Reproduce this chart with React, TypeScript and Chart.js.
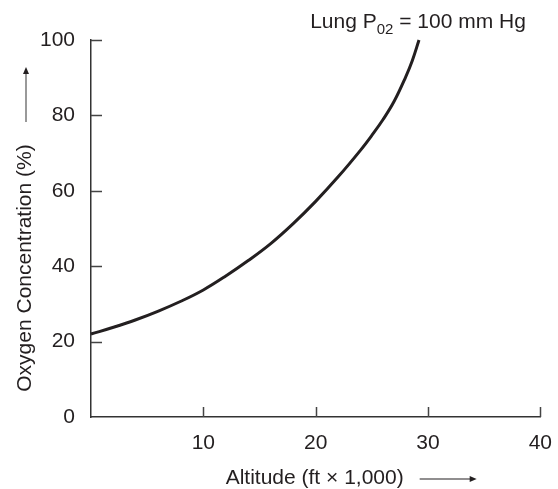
import React, { useEffect, useRef } from "react";
import { Chart, registerables } from "chart.js";

Chart.register(...registerables);

const altitude = [0, 2, 4, 6, 8, 10, 12, 14, 16, 18, 20, 22, 24, 25, 26, 27, 28, 28.6, 29.2];
const oxygen = [22.0, 23.8, 25.8, 28.1, 30.7, 33.7, 37.4, 41.5, 46.0, 51.3, 57.2, 63.7, 70.8, 74.7, 78.9, 83.8, 90.1, 94.5, 100];
const xTickValues = [10, 20, 30, 40];
const yTickValues = [20, 40, 60, 80, 100];
const xTitle = "Altitude (ft \u00d7 1,000)";
const yTitle = "Oxygen Concentration (%)";
const annotationMain = "Lung P";
const annotationSub = "02";
const annotationRest = " = 100 mm Hg";

const FONT_FAMILY = "'Liberation Sans', Arial, Helvetica, sans-serif";
const INK = "#231f20";

const decorPlugin = {
  id: "decor",
  afterDraw(chart: any) {
    const { ctx, chartArea, scales } = chart;
    const xs = scales.x;
    const ys = scales.y;
    ctx.save();
    // inward ticks
    ctx.strokeStyle = "#444";
    ctx.lineWidth = 1.5;
    ctx.beginPath();
    xTickValues.forEach((v) => {
      const px = Math.round(xs.getPixelForValue(v)) + 0.5;
      ctx.moveTo(px, chartArea.bottom);
      ctx.lineTo(px, chartArea.bottom - 10);
    });
    yTickValues.forEach((v) => {
      const py = Math.round(ys.getPixelForValue(v)) + 0.5;
      ctx.moveTo(chartArea.left, py);
      ctx.lineTo(chartArea.left + 11, py);
    });
    ctx.stroke();

    ctx.fillStyle = INK;
    ctx.font = `21px ${FONT_FAMILY}`;
    // x title
    const xCenter = (chartArea.left + chartArea.right) / 2 - 1;
    ctx.textAlign = "center";
    ctx.textBaseline = "alphabetic";
    ctx.fillText(xTitle, xCenter, 484);
    const xw = ctx.measureText(xTitle).width;
    // x arrow
    const ax0 = xCenter + xw / 2 + 16;
    const ax1 = ax0 + 57;
    const ay = 479;
    ctx.strokeStyle = INK;
    ctx.lineWidth = 1.2;
    ctx.beginPath();
    ctx.moveTo(ax0, ay);
    ctx.lineTo(ax1 - 5, ay);
    ctx.stroke();
    ctx.beginPath();
    ctx.moveTo(ax1, ay);
    ctx.lineTo(ax1 - 7, ay - 3);
    ctx.lineTo(ax1 - 7, ay + 3);
    ctx.closePath();
    ctx.fill();

    // y title (rotated)
    ctx.save();
    ctx.translate(31, 268);
    ctx.rotate(-Math.PI / 2);
    ctx.textAlign = "center";
    ctx.textBaseline = "alphabetic";
    ctx.fillText(yTitle, 0, 0);
    ctx.restore();
    // y arrow
    const yx = 26;
    const yt0 = 122;
    const yt1 = 67;
    ctx.strokeStyle = "#555";
    ctx.beginPath();
    ctx.moveTo(yx, yt0);
    ctx.lineTo(yx, yt1 + 5);
    ctx.stroke();
    ctx.beginPath();
    ctx.moveTo(yx, yt1);
    ctx.lineTo(yx - 3, yt1 + 7);
    ctx.lineTo(yx + 3, yt1 + 7);
    ctx.closePath();
    ctx.fill();

    // annotation
    ctx.textAlign = "left";
    ctx.textBaseline = "alphabetic";
    ctx.font = `21px ${FONT_FAMILY}`;
    const w1 = ctx.measureText(annotationMain).width;
    const w3 = ctx.measureText(annotationRest).width;
    ctx.font = `15px ${FONT_FAMILY}`;
    const w2 = ctx.measureText(annotationSub).width;
    const total = w1 + w2 + w3;
    let ax = 418 - total / 2;
    const base = 28;
    ctx.font = `21px ${FONT_FAMILY}`;
    ctx.fillText(annotationMain, ax, base);
    ax += w1;
    ctx.font = `15px ${FONT_FAMILY}`;
    ctx.fillText(annotationSub, ax, base + 6);
    ax += w2;
    ctx.font = `21px ${FONT_FAMILY}`;
    ctx.fillText(annotationRest, ax, base);
    ctx.restore();
  },
};

export default function App() {
  const canvasRef = useRef<HTMLCanvasElement | null>(null);

  useEffect(() => {
    if (!canvasRef.current) return;
    const chart = new Chart(canvasRef.current, {
      type: "line",
      data: {
        datasets: [
          {
            data: altitude.map((a, i) => ({ x: a, y: oxygen[i] })),
            borderColor: INK,
            borderWidth: 3,
            pointRadius: 0,
            tension: 0.4,
            fill: false,
            clip: false as any,
          },
        ],
      },
      options: {
        responsive: false,
        animation: false,
        layout: { padding: { top: 40, right: 13, left: 0, bottom: 0 } },
        plugins: {
          legend: { display: false },
          tooltip: { enabled: false },
          title: { display: false },
        },
        scales: {
          x: {
            type: "linear",
            min: 0,
            max: 40,
            grid: { display: false },
            border: { display: true, color: "#333", width: 1.5 },
            ticks: {
              stepSize: 10,
              padding: 6,
              color: INK,
              font: { family: FONT_FAMILY, size: 21 },
              maxRotation: 0,
              callback: (v: any) => (v === 0 ? "" : String(v)),
            },
            afterFit: (s: any) => {
              s.height = 72;
            },
          },
          y: {
            type: "linear",
            min: 0,
            max: 100,
            grid: { display: false },
            border: { display: true, color: "#333", width: 1.5 },
            ticks: {
              stepSize: 20,
              padding: 8,
              color: INK,
              font: { family: FONT_FAMILY, size: 21 },
            },
            afterFit: (s: any) => {
              s.width = 91;
            },
          },
        },
      },
      plugins: [decorPlugin],
    });
    return () => chart.destroy();
  }, []);

  return (
    <div style={{ position: "fixed", left: 0, top: 0, width: 558, height: 489, background: "#fff" }}>
      <canvas ref={canvasRef} width={558} height={489} />
    </div>
  );
}
